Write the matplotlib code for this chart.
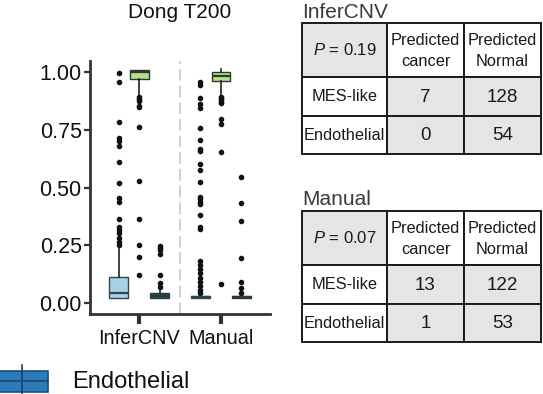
import matplotlib
matplotlib.use("Agg")
import matplotlib.pyplot as plt
from matplotlib.patches import Rectangle
from matplotlib.lines import Line2D

plt.rcParams["font.family"] = ["Liberation Sans", "DejaVu Sans"]
plt.rcParams["mathtext.fontset"] = "custom"
plt.rcParams["mathtext.rm"] = "Liberation Sans"
plt.rcParams["mathtext.it"] = "Liberation Sans:italic"

# ---- box plot data ----
methods = ["InferCNV", "Manual"]
cell_types = ["MES-like", "Malignant", "Endothelial"]
box_colors = ["#a9d2e6", "#b6e08c", "#3b4c58"]
edge_colors = ["#34444e", "#2c3a2c", "#2a3840"]

# per method, per cell type: q1, median, q3, whisker low, whisker high
q1 = [[0.022, 0.970, 0.020], [0.020, 0.962, 0.020]]
med = [[0.042, 1.000, 0.030], [0.025, 0.985, 0.025]]
q3 = [[0.111, 1.010, 0.042], [0.030, 1.002, 0.030]]
whislo = [[0.020, 0.900, 0.020], [0.020, 0.900, 0.020]]
whishi = [[0.237, 1.010, 0.053], [0.035, 1.013, 0.035]]

fliers_infercnv_mes = [0.997, 0.955, 0.785, 0.716, 0.701, 0.681, 0.612, 0.521, 0.456,
                       0.436, 0.362, 0.330, 0.316, 0.302, 0.280, 0.265, 0.251]
fliers_infercnv_mal = [0.893, 0.885, 0.875, 0.855, 0.848, 0.763, 0.529, 0.362, 0.251,
                       0.200, 0.121]
fliers_infercnv_endo = [0.247, 0.238, 0.230, 0.212, 0.121, 0.085, 0.070]
fliers_manual_mes = [0.958, 0.942, 0.886, 0.860, 0.846, 0.759, 0.707, 0.668, 0.657,
                     0.601, 0.576, 0.524, 0.459, 0.449, 0.439, 0.429, 0.379, 0.330,
                     0.319, 0.183, 0.165, 0.146, 0.128, 0.110, 0.092, 0.074, 0.056,
                     0.045]
fliers_manual_mal = [0.893, 0.886, 0.879, 0.872, 0.865, 0.795, 0.775, 0.655, 0.082]
fliers_manual_endo = [0.544, 0.433, 0.357, 0.193, 0.092, 0.065, 0.044]
fliers = [[fliers_infercnv_mes, fliers_infercnv_mal, fliers_infercnv_endo],
          [fliers_manual_mes, fliers_manual_mal, fliers_manual_endo]]

y_ticks = [0.00, 0.25, 0.50, 0.75, 1.00]

# ---- contingency tables ----
table_titles = ["InferCNV", "Manual"]
p_values = ["0.19", "0.07"]
col_labels = ["Predicted\ncancer", "Predicted\nNormal"]
row_labels = ["MES-like", "Endothelial"]
counts_infercnv = [[7, 128], [0, 54]]
counts_manual = [[13, 122], [1, 53]]
counts = [counts_infercnv, counts_manual]

W, H = 543, 394
fig = plt.figure(figsize=(W / 100, H / 100), dpi=100)

ax = fig.add_axes([90 / W, 1 - 314 / H, 180 / W, 253 / H])
offsets = [-0.25, 0.0, 0.25]
for gi in range(len(methods)):
    for ci in range(len(cell_types)):
        st = [dict(q1=q1[gi][ci], med=med[gi][ci], q3=q3[gi][ci],
                   whislo=whislo[gi][ci], whishi=whishi[gi][ci],
                   fliers=fliers[gi][ci])]
        ax.bxp(st, positions=[gi + 1 + offsets[ci]], widths=0.23,
               patch_artist=True, showcaps=False, manage_ticks=False,
               boxprops=dict(facecolor=box_colors[ci], edgecolor=edge_colors[ci], linewidth=1.0),
               medianprops=dict(color=edge_colors[ci], linewidth=1.6),
               whiskerprops=dict(color="#222222", linewidth=1.2),
               flierprops=dict(marker="o", markersize=3.0, markerfacecolor="#111111",
                               markeredgecolor="#111111", linestyle="none"))

ax.axvline(1.5, color="#c8c8c8", linewidth=1.2, linestyle=(0, (7, 3)), zorder=0)
ax.set_xlim(0.4, 2.6)
ax.set_ylim(-0.048, 1.048)
ax.set_xticks([1, 2])
ax.set_xticklabels(methods)
ax.set_yticks(y_ticks)
ax.set_yticklabels(["%.2f" % v for v in y_ticks])
for s in ["top", "right"]:
    ax.spines[s].set_visible(False)
for s in ["left", "bottom"]:
    ax.spines[s].set_linewidth(2.0)
    ax.spines[s].set_color("#333333")
ax.tick_params(axis="y", length=4, width=1.6, color="#333333", labelsize=15.5,
               labelcolor="#111111", pad=2)
ax.tick_params(axis="x", length=7, width=3, color="#333333", labelsize=14.3,
               labelcolor="#111111", pad=4)

fig.text(180 / W, 1 - 18 / H, "Dong T200", ha="center", va="baseline",
         fontsize=15, color="#111111")

# overlay in pixel coordinates for tables and legend
ov = fig.add_axes([0, 0, 1, 1])
ov.set_xlim(0, W)
ov.set_ylim(H, 0)
ov.axis("off")

col_x = [302, 387, 464, 541]
table_tops = [23, 211]
row_h = [54, 39, 38]
title_base = [18, 205]
grey = "#e5e5e5"

for ti in range(2):
    ov.text(302, title_base[ti], table_titles[ti], ha="left", va="baseline",
            fontsize=15, color="#3a3a3a")
    row_y = [table_tops[ti]]
    for h in row_h:
        row_y.append(row_y[-1] + h)
    for r in range(3):
        for c in range(3):
            x0, x1 = col_x[c], col_x[c + 1]
            y0, y1 = row_y[r], row_y[r + 1]
            if (r == 0 and c == 0) or (r > 0 and c > 0):
                fc = grey
            else:
                fc = "white"
            ov.add_patch(Rectangle((x0, y0), x1 - x0, y1 - y0, facecolor=fc,
                                   edgecolor="#1a1a1a", linewidth=1.4))
            xc, yc = (x0 + x1) / 2, (y0 + y1) / 2
            if r == 0 and c == 0:
                ov.text(xc, yc, "$P$ = " + p_values[ti], ha="center", va="center",
                        fontsize=12, color="#1a1a1a")
            elif r == 0:
                ov.text(xc, yc + 1, col_labels[c - 1], ha="center", va="center",
                        fontsize=11.8, color="#1a1a1a", linespacing=1.45)
            elif c == 0:
                ov.text(xc, yc, row_labels[r - 1], ha="center", va="center",
                        fontsize=11.8, color="#1a1a1a")
            else:
                ov.text(xc, yc + 1, str(counts[ti][r - 1][c - 1]), ha="center",
                        va="center", fontsize=13.5, color="#1a1a1a")

# legend key (partly cut off on the left)
ov.add_line(Line2D([22, 22], [365, 394], color="#1f3f60", linewidth=1.2))
ov.add_patch(Rectangle((-5, 371), 53, 21, facecolor="#2b7bba", edgecolor="#1f4d7a",
                       linewidth=1.2))
ov.add_line(Line2D([-5, 48], [381, 381], color="#1f4d7a", linewidth=1.4))
ov.text(72, 388, "Endothelial", ha="left", va="baseline", fontsize=17, color="#111111")

fig.savefig("out.png", dpi=100)
